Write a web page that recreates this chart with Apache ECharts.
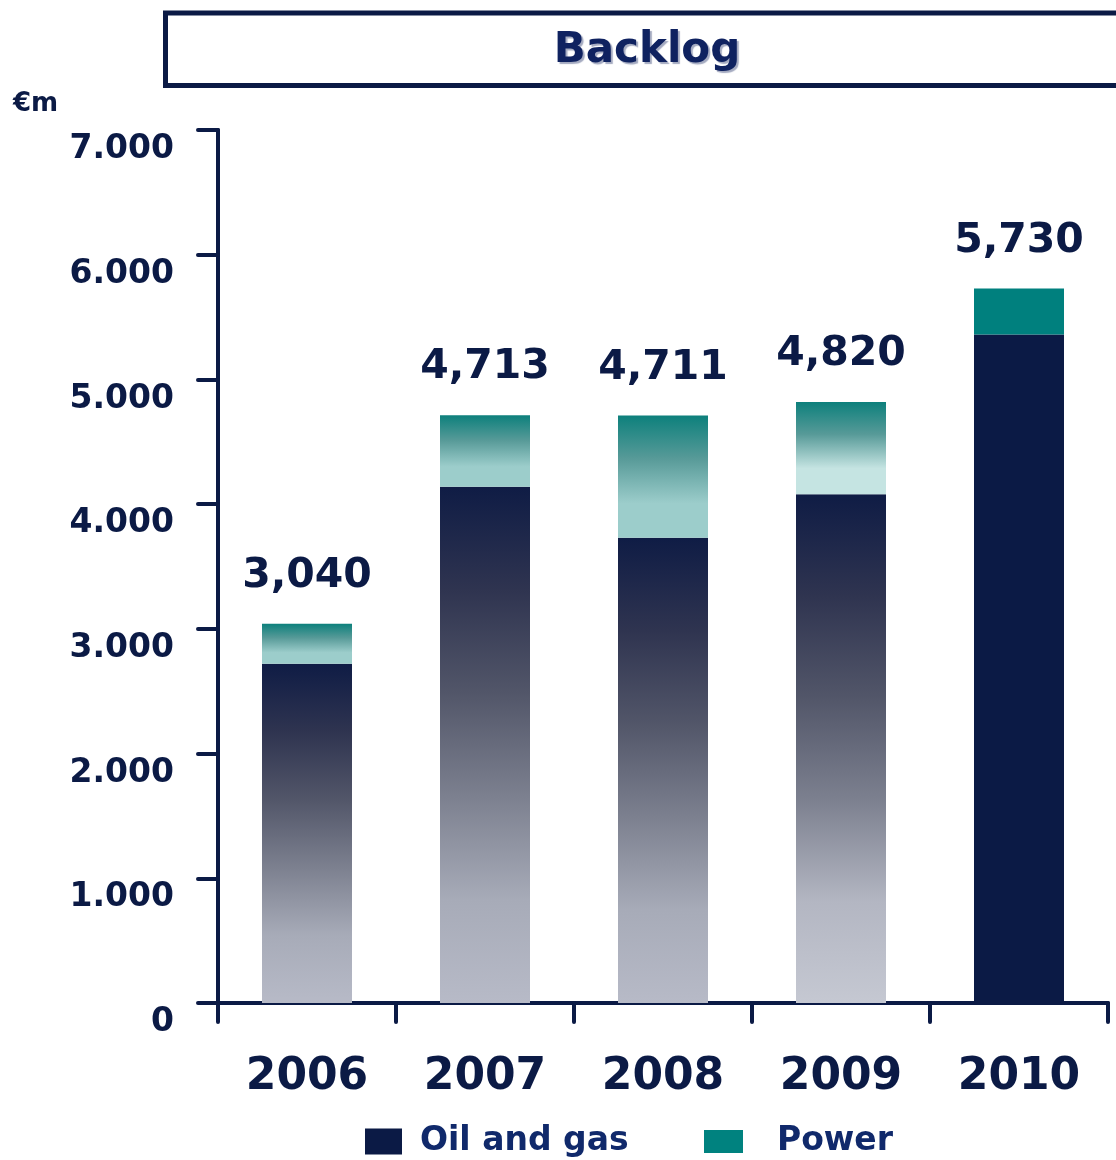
<!DOCTYPE html>
<html>
<head>
<meta charset="utf-8">
<title>Backlog</title>
<script src="https://cdn.jsdelivr.net/npm/echarts@6/dist/echarts.min.js"></script>
<style>
  html, body { margin: 0; padding: 0; background: #fff; }
  #chart { width: 1116px; height: 1160px; }
</style>
</head>
<body>
<div id="chart"></div>
<script>
// data (€m)
const years = ['2006', '2007', '2008', '2009', '2010']
const oilGas = [2720, 4140, 3730, 4080, 5360]
const power = [320, 573, 981, 740, 370]
const totals = [3040, 4713, 4711, 4820, 5730]
const yTicks = [0, 1000, 2000, 3000, 4000, 5000, 6000, 7000]

const NAVY = '#0b1a45'
const FONT = 'DejaVu Sans'

// vertical gradients, one per bar (the last year is flat)
function oilColor(i) {
  if (i === 4) return NAVY
  const bottom = i === 3 ? '#c5c8d2' : '#b7bac7'
  return new echarts.graphic.LinearGradient(0, 0, 0, 1, [
    { offset: 0, color: '#0f1c45' },
    { offset: 0.2, color: '#2f3450' },
    { offset: 0.4, color: '#525669' },
    { offset: 0.6, color: '#7c808f' },
    { offset: 0.8, color: i === 3 ? '#b3b6c2' : '#a7abb8' },
    { offset: 1, color: bottom }
  ])
}
function powerColor(i) {
  if (i === 4) return '#00807e'
  const light = i === 3 ? '#c5e4e2' : '#9ccdcb'
  return new echarts.graphic.LinearGradient(0, 0, 0, 1, [
    { offset: 0, color: '#0d807c' },
    { offset: 0.35, color: '#579a98' },
    { offset: 0.72, color: light },
    { offset: 1, color: light }
  ])
}

function thousands(v, sep) {
  return String(v).replace(/\B(?=(\d{3})+(?!\d))/g, sep)
}

let myChart = echarts.init(document.getElementById('chart'))

var option = {
  animation: false,
  textStyle: { fontFamily: FONT },
  graphic: [
    {
      type: 'rect',
      shape: { x: 165.5, y: 13, width: 1000, height: 72.5 },
      style: { fill: '#fff', stroke: NAVY, lineWidth: 5 }
    },
    {
      type: 'text',
      x: 647,
      y: 51,
      style: {
        text: 'Backlog',
        fill: '#0f2260',
        font: 'bold 42px "DejaVu Sans"',
        align: 'center',
        verticalAlign: 'middle',
        textShadowColor: 'rgba(90,100,140,0.55)',
        textShadowOffsetX: 2,
        textShadowOffsetY: 2,
        textShadowBlur: 1
      }
    },
    {
      type: 'text',
      x: 13,
      y: 104,
      style: {
        text: '€m',
        fill: NAVY,
        font: 'bold 26px "DejaVu Sans"',
        verticalAlign: 'middle'
      }
    }
  ],
  legend: [
    {
      left: 360,
      top: 1120,
      data: ['Oil and gas'],
      itemWidth: 37,
      itemHeight: 26,
      icon: 'rect',
      textStyle: { color: '#10296b', fontSize: 33, fontWeight: 'bold', fontFamily: FONT, padding: [0, 0, 0, 13] }
    },
    {
      left: 699,
      top: 1120,
      data: ['Power'],
      itemWidth: 39,
      itemHeight: 23,
      icon: 'rect',
      textStyle: { color: '#10296b', fontSize: 33, fontWeight: 'bold', fontFamily: FONT, padding: [0, 0, 0, 29] }
    }
  ],
  grid: { left: 218, right: 8, top: 130, bottom: 157 },
  xAxis: {
    type: 'category',
    data: years,
    axisLine: { lineStyle: { color: NAVY, width: 4, cap: 'round' } },
    axisTick: { show: true, length: 19, lineStyle: { color: NAVY, width: 4, cap: 'round' } },
    axisLabel: { color: NAVY, fontSize: 44, fontWeight: 'bold', fontFamily: FONT, margin: 53 }
  },
  yAxis: {
    type: 'value',
    min: yTicks[0],
    max: yTicks[yTicks.length - 1],
    interval: 1000,
    splitLine: { show: false },
    axisLine: { show: true, lineStyle: { color: NAVY, width: 4, cap: 'round' } },
    axisTick: { show: true, length: 20, lineStyle: { color: NAVY, width: 4, cap: 'round' } },
    axisLabel: {
      color: NAVY,
      fontSize: 33,
      fontWeight: 'bold',
      fontFamily: FONT,
      margin: 44,
      verticalAlign: 'top',
      padding: [3, 0, 0, 0],
      formatter: function (v) { return thousands(v, '.') }
    }
  },
  series: [
    {
      name: 'Oil and gas',
      type: 'bar',
      stack: 'backlog',
      barWidth: 90,
      itemStyle: { color: NAVY },
      data: oilGas.map(function (v, i) {
        return { value: v, itemStyle: { color: oilColor(i) } }
      })
    },
    {
      name: 'Power',
      type: 'bar',
      stack: 'backlog',
      barWidth: 90,
      itemStyle: { color: '#00827f' },
      data: power.map(function (v, i) {
        return { value: v, itemStyle: { color: powerColor(i) } }
      }),
      label: {
        show: true,
        position: 'top',
        distance: 27,
        color: NAVY,
        fontSize: 41,
        fontWeight: 'bold',
        fontFamily: FONT,
        formatter: function (p) { return thousands(totals[p.dataIndex], ',') }
      }
    }
  ]
}

window.onresize = myChart.resize
myChart.setOption(option)
</script>
</body>
</html>
